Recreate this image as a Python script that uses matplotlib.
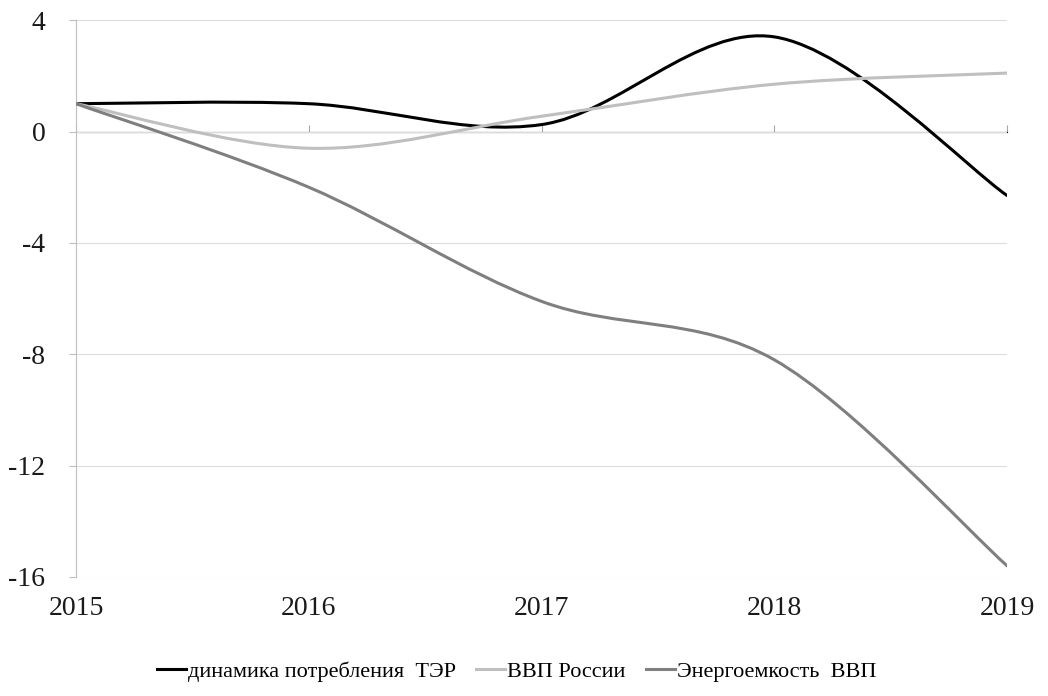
import matplotlib.pyplot as plt
import numpy as np
from matplotlib.path import Path
from matplotlib.patches import PathPatch
from matplotlib.lines import Line2D

plt.rcParams['font.family'] = ['Liberation Serif', 'DejaVu Serif']

years = [2015, 2016, 2017, 2018, 2019]
ter = [1.0, 1.0, 0.25, 3.4, -2.3]          # динамика потребления ТЭР
gdp = [1.0, -0.6, 0.55, 1.7, 2.1]          # ВВП России
energy = [1.0, -2.0, -6.1, -8.2, -15.6]    # Энергоемкость ВВП
labels = ['динамика потребления  ТЭР', 'ВВП России', 'Энергоемкость  ВВП']
colors = ['#000000', '#bfbfbf', '#7f7f7f']
yticks = [4, 0, -4, -8, -12, -16]


def smooth_path(x, y):
    # Excel-like smoothed line: cubic Bezier through the points (Catmull-Rom control points)
    p = np.column_stack([x, y]).astype(float)
    ext = np.vstack([p[0], p, p[-1]])
    verts = [p[0]]
    codes = [Path.MOVETO]
    for i in range(len(p) - 1):
        p0, p1, p2, p3 = ext[i], ext[i + 1], ext[i + 2], ext[i + 3]
        verts += [p1 + (p2 - p0) / 6, p2 - (p3 - p1) / 6, p2]
        codes += [Path.CURVE4] * 3
    return Path(verts, codes)


fig = plt.figure(figsize=(10.48, 6.96), dpi=100)
ax = fig.add_axes([0.0725, 0.171, 0.8885, 0.800])
ax.set_xlim(2015, 2019)
ax.set_ylim(-16, 4)

for vals, c in zip([ter, gdp, energy], colors):
    ax.add_patch(PathPatch(smooth_path(years, vals), fill=False, edgecolor=c,
                           linewidth=2.2, capstyle='round', zorder=3))

ax.set_yticks(yticks)
ax.set_yticklabels([str(v) for v in yticks], fontsize=20, color='#1a1a1a')
ax.set_xticks(years)
ax.set_xticklabels([str(v) for v in years], fontsize=20, color='#1a1a1a')
ax.tick_params(axis='x', length=0, pad=14)
ax.tick_params(axis='y', length=5, color='#bfbfbf', pad=17)
ax.grid(axis='y', color='#dcdcdc', linewidth=0.8)
ax.set_axisbelow(True)
for s in ['top', 'right', 'bottom']:
    ax.spines[s].set_visible(False)
ax.spines['left'].set_color('#bfbfbf')
ax.spines['left'].set_linewidth(0.8)

# category axis crossing at zero
sec = ax.secondary_xaxis(16 / 20)
sec.set_xticks(years)
sec.set_xticklabels([])
sec.tick_params(direction='out', length=5, color='#a6a6a6')
sec.spines['bottom'].set_color('#a6a6a6')
sec.spines['bottom'].set_linewidth(0.9)

handles = [Line2D([], [], color=c, linewidth=2.2) for c in colors]
fig.legend(handles, labels, loc='center', bbox_to_anchor=(0.493, 0.035), ncol=3,
           frameon=False, fontsize=16, handlelength=1.3, handletextpad=0.1,
           columnspacing=0.9)

fig.savefig('out.png', dpi=100, facecolor='white')
